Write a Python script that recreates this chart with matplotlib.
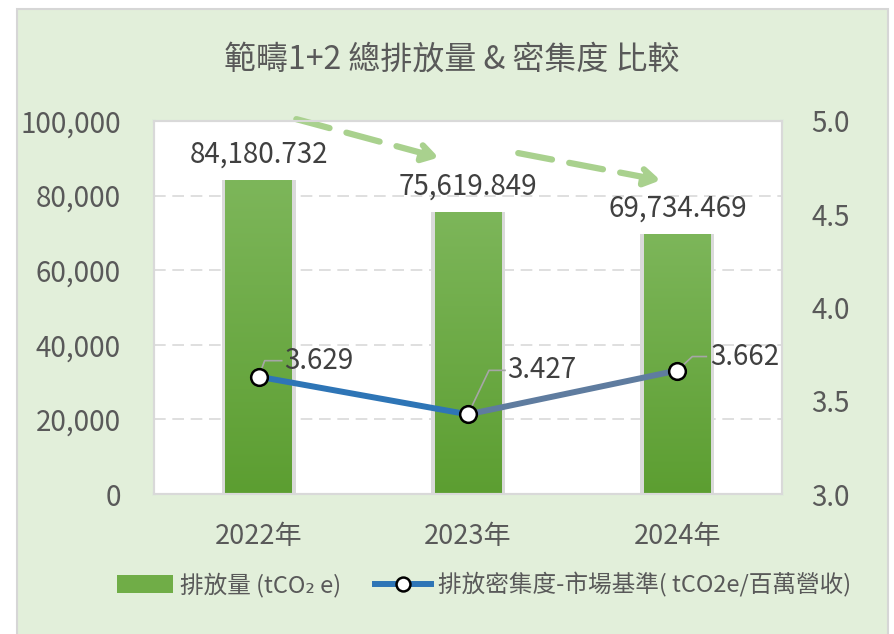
import matplotlib.pyplot as plt
import numpy as np
from matplotlib.patches import Rectangle
from matplotlib.lines import Line2D
from matplotlib.colors import LinearSegmentedColormap

plt.rcParams['font.family'] = ['Noto Sans CJK TC', 'DejaVu Sans']

years = ['2022年', '2023年', '2024年']
emissions = [84180.732, 75619.849, 69734.469]
intensity = [3.629, 3.427, 3.662]
emission_labels = ['84,180.732', '75,619.849', '69,734.469']
intensity_labels = ['3.629', '3.427', '3.662']
left_ticks = [0, 20000, 40000, 60000, 80000, 100000]
right_ticks = [3.0, 3.5, 4.0, 4.5, 5.0]
title = '範疇1+2 總排放量 & 密集度 比較'
bar_name = '排放量 (tCO₂ e)'
line_name = '排放密集度-市場基準( tCO2e/百萬營收)'

W, H = 894, 634
fig = plt.figure(figsize=(W / 100, H / 100), dpi=100)
fig.patch.set_facecolor('white')
fig.add_artist(Rectangle((17 / W, -0.01), (888 - 17) / W, (634 - 9) / H + 0.01,
                         transform=fig.transFigure, facecolor='#e2efda',
                         edgecolor='#d6d6d6', linewidth=1.5, zorder=0))

ax = fig.add_axes([154 / W, 1 - 494 / H, 628 / W, 373 / H])
ax.set_facecolor('white')
ax2 = ax.twinx()

x = np.arange(len(years))
ax.set_xlim(-0.5, 2.5)
ax.set_ylim(0, 100000)
ax2.set_ylim(3.0, 5.0)

# grid
for t in left_ticks[1:-1]:
    ax.axhline(t, color='#d9d9d9', lw=1.2, ls=(0, (7, 4)), zorder=0)

# bars with soft shadow and vertical gradient
ax.bar(x, emissions, width=0.355, color='#dadada', zorder=1)
bars = ax.bar(x, emissions, width=0.32, color='#70ad47', zorder=2)
cmap = LinearSegmentedColormap.from_list('g', ['#5c9e31', '#7db65a'])
grad = np.linspace(0, 1, 256).reshape(-1, 1)
for b in bars:
    bx, by = b.get_x(), b.get_y()
    im = ax.imshow(grad, cmap=cmap, origin='lower', aspect='auto',
                   extent=[bx, bx + b.get_width(), by, by + b.get_height()], zorder=2)
    im.set_clip_path(b)
ax.set_xlim(-0.5, 2.5)
ax.set_ylim(0, 100000)

for xi, v, lab in zip(x, emissions, emission_labels):
    ax.annotate(lab, (xi, v), xytext=(0, 25), textcoords='offset pixels',
                ha='center', va='center', fontsize=20, color='#404040', zorder=5)

# dashed trend arrows
for (x0, y0, x1, y1) in [(0.18, 100500, 0.86, 90200), (1.24, 91400, 1.92, 84100)]:
    ax.annotate('', xy=(x1, y1), xytext=(x0, y0), annotation_clip=False,
                arrowprops=dict(arrowstyle='-|>,head_length=0.9,head_width=0.55',
                                color='#a9d18e', lw=4.5, ls=(0, (5.5, 2.8)),
                                shrinkA=0, shrinkB=0), zorder=6)

# intensity line (two segments, blue to grey-blue)
seg_colors = ['#2e75b6', '#5f7c9f']
for i in range(len(x) - 1):
    ax2.plot(x[i:i + 2], intensity[i:i + 2], color=seg_colors[i], lw=4.3,
             solid_capstyle='butt', zorder=3)
ax2.plot(x, intensity, ls='none', marker='o', ms=12, mfc='white', mec='black',
         mew=1.8, zorder=4)

# leader lines + labels (pixel offsets from marker)
offsets = [((6, 16), (23, 16), 25), ((21, 44), (37, 44), 39), ((15, 14), (29, 14), 33)]
fig.canvas.draw()
inv = ax2.transData.inverted()
for xi, v, lab, (c1, c2, tx) in zip(x, intensity, intensity_labels, offsets):
    px, py = ax2.transData.transform((xi, v))
    pts = inv.transform([(px, py), (px + c1[0], py + c1[1]), (px + c2[0], py + c2[1])])
    ax2.plot(pts[:, 0], pts[:, 1], color='#a6a6a6', lw=1.2, zorder=3.5)
    tpos = inv.transform((px + tx, py + c2[1]))
    ax2.text(tpos[0], tpos[1], lab, ha='left', va='center', fontsize=20,
             color='#404040', zorder=5)

# axes styling
ax.set_xticks(x)
ax.set_xticklabels(years)
ax.set_yticks(left_ticks)
ax.set_yticklabels([f'{t:,}' for t in left_ticks])
ax2.set_yticks(right_ticks)
ax2.set_yticklabels([f'{t:.1f}' for t in right_ticks])
ax.tick_params(axis='y', length=0, pad=24, labelsize=20, labelcolor='#595959')
ax.tick_params(axis='x', length=0, pad=21, labelsize=19.5, labelcolor='#595959')
ax2.tick_params(axis='y', length=0, pad=21, labelsize=20, labelcolor='#595959')
for a in (ax, ax2):
    for s in a.spines.values():
        s.set_color('#d9d9d9')
        s.set_linewidth(1.5)

fig.text(452 / W, 1 - 60 / H, title, ha='center', va='center', fontsize=23,
         color='#595959')

handles = [Rectangle((0, 0), 1, 1, facecolor='#70ad47'),
           Line2D([], [], color='#2e75b6', lw=4.3, marker='o', ms=10,
                  mfc='white', mec='black', mew=1.8)]
fig.legend(handles, [bar_name, line_name], loc='center', ncol=2,
           bbox_to_anchor=(484 / W, 1 - 585 / H), frameon=False, fontsize=17,
           labelcolor='#595959', handlelength=2.4, handletextpad=0.3,
           columnspacing=1.4, handleheight=0.8)

fig.savefig('out.png', dpi=100)
